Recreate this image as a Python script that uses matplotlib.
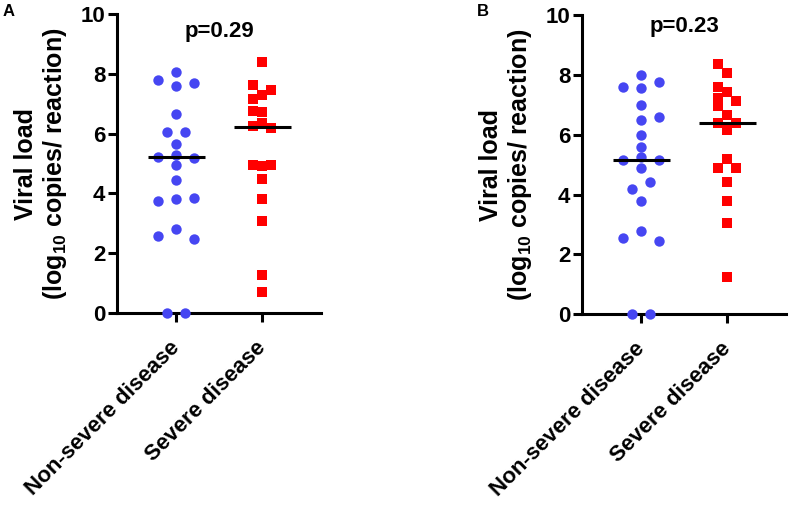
import matplotlib
matplotlib.use("Agg")
import matplotlib.pyplot as plt
import numpy as np

plt.rcParams['font.family'] = ['Liberation Sans', 'DejaVu Sans']
plt.rcParams['font.weight'] = 'bold'
plt.rcParams['mathtext.fontset'] = 'custom'
plt.rcParams['mathtext.rm'] = 'Liberation Sans:bold'
plt.rcParams['mathtext.bf'] = 'Liberation Sans:bold'
plt.rcParams['mathtext.default'] = 'bf'

categories = ["Non-severe disease", "Severe disease"]
yticks = [0, 2, 4, 6, 8, 10]
ylabel = "Viral load\n(log$_{10}$ copies/ reaction)"

# Panel A
a_nonsevere = [7.78, 8.07, 7.59, 7.68, 6.66, 6.05, 6.05, 5.65, 5.22, 5.30, 5.20,
               4.94, 4.45, 3.74, 3.82, 3.85, 2.59, 2.80, 2.49, 0.0, 0.0]
a_nonsevere_lane = [-2, 0, 0, 2, 0, -1, 1, 0, -2, 0, 2,
                    0, 0, -2, 0, 2, -2, 0, 2, -1, 1]
a_severe = [8.41, 7.62, 7.28, 7.46, 7.16, 6.76, 6.72, 6.25, 6.36, 6.19,
            4.96, 4.92, 4.96, 4.47, 3.82, 3.09, 1.28, 0.70]
a_severe_lane = [0, -1, 0, 1, -1, -1, 0, -1, 0, 1,
                 -1, 0, 1, 0, 0, 0, 0, 0]
a_medians = [5.22, 6.22]
a_p = "p=0.29"

# Panel B
b_nonsevere = [7.60, 8.01, 7.56, 7.76, 7.00, 6.49, 6.60, 6.00, 5.60, 5.16, 5.27,
               5.16, 4.88, 4.41, 4.19, 3.79, 2.56, 2.78, 2.46, 0.0, 0.0]
b_nonsevere_lane = [-2, 0, 0, 2, 0, 0, 2, 0, 0, -2, 0,
                    2, 0, 1, -1, 0, -2, 0, 2, -1, 1]
b_severe = [8.36, 8.07, 7.58, 7.23, 6.96, 7.42, 7.12, 6.66, 6.38, 6.38, 6.16,
            5.18, 4.88, 4.89, 4.42, 3.79, 3.04, 1.24]
b_severe_lane = [-1, 0, -1, -1, -1, 0, 1, 0, -1, 1, 0,
                 0, -1, 1, 0, 0, 0, 0]
b_medians = [5.16, 6.38]
b_p = "p=0.23"

BLUE = '#4646F2'
RED = '#FF0000'
LANE = 0.105

fig = plt.figure(figsize=(7.9, 5.09), dpi=100)
axA = fig.add_axes([117/790, 1 - 313/509, (321-117)/790, 299/509])
axB = fig.add_axes([582/790, 1 - 314.3/509, (786-582)/790, 299.3/509])


def draw(ax, ns, ns_lane, sv, sv_lane, medians, ptext, pty, letter, letter_x):
    ns_x = 0 + np.array(ns_lane) * LANE
    sv_x = 1 + np.array(sv_lane) * LANE
    ax.scatter(ns_x, ns, s=56, marker='o', color=BLUE, linewidths=0,
               zorder=4, clip_on=False)
    ax.scatter(sv_x, sv, s=52, marker='s', color=RED, linewidths=0,
               zorder=4, clip_on=False)
    for i, m in enumerate(medians):
        ax.plot([i - 0.33, i + 0.33], [m, m], color='black', lw=2.2,
                zorder=5, solid_capstyle='butt')
    ax.set_xlim(-0.69, 1.685)
    ax.set_ylim(0, 10)
    ax.set_yticks(yticks)
    ax.set_xticks([0, 1])
    ax.set_xticklabels(categories, rotation=45, ha='right', va='center',
                       rotation_mode='anchor', fontsize=16, fontweight='bold')
    for lab in ax.get_yticklabels():
        lab.set_fontsize(16)
        lab.set_fontweight('bold')
    ax.spines['top'].set_visible(False)
    ax.spines['right'].set_visible(False)
    for sp in ['left', 'bottom']:
        ax.spines[sp].set_linewidth(2.2)
    ax.tick_params(axis='both', width=2.2, length=6.5)
    ax.tick_params(axis='x', pad=16)
    ax.tick_params(axis='y', pad=2)
    ax.set_ylabel(ylabel, fontsize=18, fontweight='bold', labelpad=8,
                  linespacing=1.15)
    ax.text(0.5, pty, ptext, ha='center', va='center', fontsize=16,
            fontweight='bold')
    fig.text(letter_x, 1 - 11/509, letter, ha='left', va='center',
             fontsize=12, fontweight='bold')


draw(axA, a_nonsevere, a_nonsevere_lane, a_severe, a_severe_lane, a_medians,
     a_p, 9.42, "A", 3/790)
draw(axB, b_nonsevere, b_nonsevere_lane, b_severe, b_severe_lane, b_medians,
     b_p, 9.6, "B", 477/790)

fig.savefig('out.png', dpi=100)
